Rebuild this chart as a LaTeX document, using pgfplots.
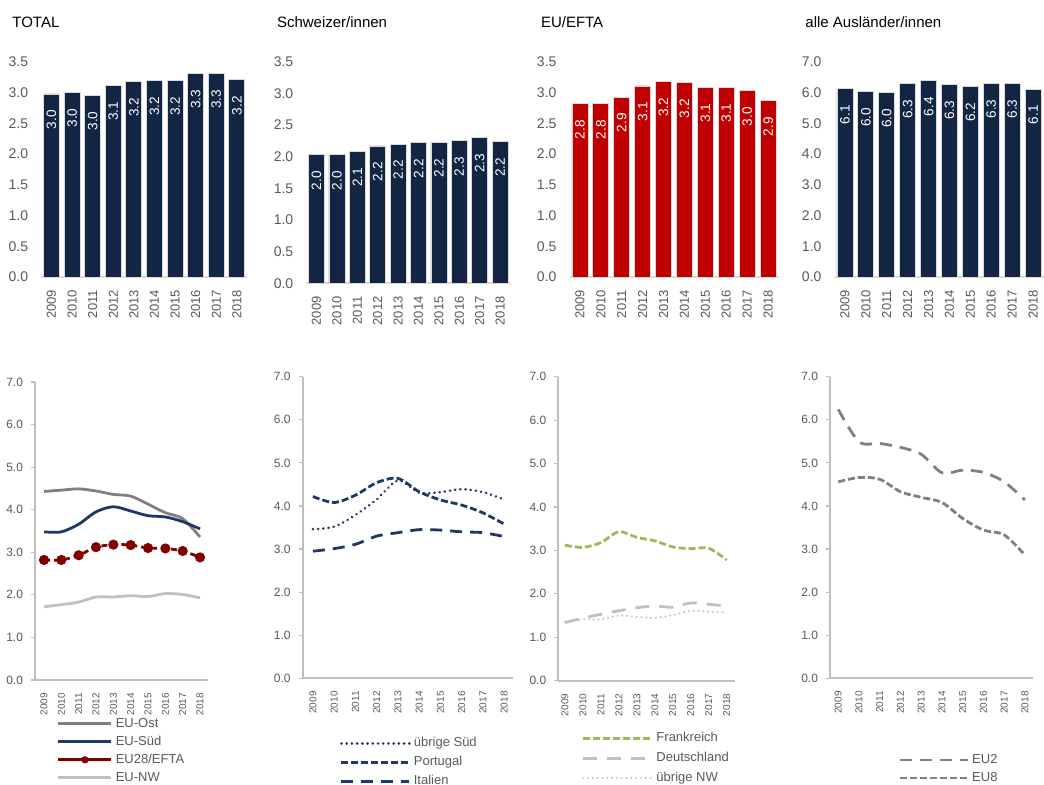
\documentclass[border=0pt]{standalone}
\usepackage{fontspec}
\setmainfont{Liberation Sans}
\usepackage{pgfplots}
\pgfplotsset{compat=1.18}

\definecolor{barnavy}{RGB}{18,37,66}
\definecolor{barred}{RGB}{192,0,0}
\definecolor{linenavy}{RGB}{31,56,100}
\definecolor{darkred}{RGB}{128,0,0}
\definecolor{midgray}{RGB}{128,128,128}
\definecolor{palegray}{RGB}{192,192,192}
\definecolor{frgreen}{RGB}{155,187,89}
\definecolor{ticktext}{RGB}{89,89,89}
\definecolor{axisgray}{RGB}{191,191,191}
\definecolor{basegray}{RGB}{217,217,217}

\pgfplotsset{
  topbar/.style={
    scale only axis, ybar, bar width=8pt,
    xmin=-0.5, xmax=9.5, ymin=0,
    xtick={0,...,9},
    xticklabels={2009,2010,2011,2012,2013,2014,2015,2016,2017,2018},
    axis x line=bottom, axis y line=left,
    x axis line style={draw=basegray, line width=1.2pt, -},
    y axis line style={draw=none},
    major tick length=0pt, tick style={draw=none},
    xticklabel style={rotate=90, anchor=east, font=\fontsize{6.5}{7}\selectfont, text=ticktext},
    yticklabel style={font=\fontsize{7}{8}\selectfont, text=ticktext,
      /pgf/number format/.cd, fixed, fixed zerofill, precision=1},
    /pgf/number format/assume math mode=true,
    xticklabel shift=3pt, yticklabel shift=3pt,
    nodes near coords={\pgfmathprintnumber[fixed,fixed zerofill,precision=1]{\pgfplotspointmeta}},
    every node near coord/.append style={rotate=90, anchor=east, inner xsep=8pt,
      inner ysep=0pt, text=white, font=\fontsize{6.8}{7}\selectfont},
  },
  botline/.style={
    scale only axis, ymin=0, ymax=7, ytick={0,1,...,7},
    xtick={2009,...,2018},
    xticklabels={2009,2010,2011,2012,2013,2014,2015,2016,2017,2018},
    axis x line=bottom, axis y line=left,
    axis line style={draw=axisgray, line width=1pt, -},
    xtick style={draw=none}, ytick style={draw=axisgray, line width=0.6pt},
    tick align=outside, major tick length=2pt,
    xticklabel style={rotate=90, anchor=east, font=\fontsize{5}{6}\selectfont, text=ticktext},
    yticklabel style={font=\fontsize{6}{7}\selectfont, text=ticktext,
      /pgf/number format/.cd, fixed, fixed zerofill, precision=1},
    /pgf/number format/assume math mode=true,
    xticklabel shift=1pt, yticklabel shift=0.5pt,
    legend cell align=left,
    legend style={draw=none, fill=none, inner sep=0pt, row sep=2.5pt, anchor=north west,
      font=\fontsize{6.5}{7}\selectfont, text=ticktext,
      nodes={inner sep=0pt, text height=5pt, text depth=1.5pt},
      /tikz/every odd column/.append style={column sep=1.5pt}},
  },
}

\begin{document}
\begin{tikzpicture}
\useasboundingbox (0pt,0pt) rectangle (522pt,-392.5pt);

% titles
\node[anchor=west, font=\fontsize{7.5}{9}\selectfont, inner sep=0pt] at (6pt,-11.3pt) {TOTAL};
\node[anchor=west, font=\fontsize{7.5}{9}\selectfont, inner sep=0pt] at (138.3pt,-11.3pt) {Schweizer/innen};
\node[anchor=west, font=\fontsize{7.5}{9}\selectfont, inner sep=0pt] at (270.3pt,-11.3pt) {EU/EFTA};
\node[anchor=west, font=\fontsize{7.5}{9}\selectfont, inner sep=0pt] at (402.5pt,-11.3pt) {alle Ausländer/innen};

% ---- top row: bars
\begin{axis}[topbar, at={(20.6pt,-138.5pt)}, anchor=south west,
  width=103pt, height=107.5pt, ymax=3.5, ytick={0,0.5,...,3.5}]
\addplot[fill=barnavy, draw=white!85!black, line width=0.4pt] coordinates {
  (0,2.98) (1,3.01) (2,2.96) (3,3.12) (4,3.18) (5,3.20) (6,3.20) (7,3.31) (8,3.31) (9,3.21)};
\end{axis}

\begin{axis}[topbar, at={(153.15pt,-141.65pt)}, anchor=south west,
  width=102pt, height=110.8pt, ymax=3.5, ytick={0,0.5,...,3.5}]
\addplot[fill=barnavy, draw=white!85!black, line width=0.4pt] coordinates {
  (0,2.03) (1,2.03) (2,2.08) (3,2.17) (4,2.20) (5,2.22) (6,2.23) (7,2.25) (8,2.30) (9,2.24)};
\end{axis}

\begin{axis}[topbar, at={(284.75pt,-138.5pt)}, anchor=south west,
  width=104.5pt, height=107.5pt, ymax=3.5, ytick={0,0.5,...,3.5}]
\addplot[fill=barred, draw=white!85!black, line width=0.4pt] coordinates {
  (0,2.82) (1,2.82) (2,2.93) (3,3.11) (4,3.18) (5,3.16) (6,3.09) (7,3.09) (8,3.03) (9,2.87)};
\end{axis}

\begin{axis}[topbar, at={(417.25pt,-138.5pt)}, anchor=south west,
  width=104.5pt, height=107.5pt, ymax=7, ytick={0,1,...,7}]
\addplot[fill=barnavy, draw=white!85!black, line width=0.4pt] coordinates {
  (0,6.13) (1,6.04) (2,6.01) (3,6.30) (4,6.39) (5,6.27) (6,6.21) (7,6.31) (8,6.31) (9,6.12)};
\end{axis}

% ---- bottom row: lines
\begin{axis}[botline, at={(17.5pt,-340pt)}, anchor=south west,
  width=86.5pt, height=149pt, xmin=2008.48, xmax=2018.46,
  legend style={at={(0.125,-0.124)}},
  legend image code/.code={\draw[#1] (0pt,0pt) -- (26.5pt,0pt);}]
\addplot[midgray, line width=1.4pt, smooth] coordinates {
  (2009,4.43) (2010,4.46) (2011,4.49) (2012,4.44) (2013,4.36) (2014,4.32) (2015,4.13) (2016,3.93) (2017,3.79) (2018,3.36)};
\addlegendentry{EU-Ost}
\addplot[linenavy, line width=1.4pt, smooth] coordinates {
  (2009,3.48) (2010,3.48) (2011,3.66) (2012,3.95) (2013,4.07) (2014,3.97) (2015,3.86) (2016,3.83) (2017,3.72) (2018,3.55)};
\addlegendentry{EU-Süd}
\addlegendimage{legend image code/.code={\draw[darkred, line width=1.4pt] (0pt,0pt) -- (26.5pt,0pt);
    \fill[darkred] (13.25pt,0pt) circle (1.6pt);}}
\addlegendentry{EU28/EFTA}
\addplot[darkred, line width=1.4pt, smooth, dash pattern=on 3pt off 2pt,
  mark=*, mark size=1.8pt, mark options={solid, fill=darkred}, forget plot] coordinates {
  (2009,2.82) (2010,2.82) (2011,2.93) (2012,3.12) (2013,3.18) (2014,3.17) (2015,3.10) (2016,3.09) (2017,3.03) (2018,2.88)};
\addplot[palegray, line width=1.4pt, smooth] coordinates {
  (2009,1.72) (2010,1.77) (2011,1.83) (2012,1.95) (2013,1.95) (2014,1.98) (2015,1.96) (2016,2.03) (2017,2.01) (2018,1.93)};
\addlegendentry{EU-NW}
\end{axis}

\begin{axis}[botline, at={(151.35pt,-339.15pt)}, anchor=south west,
  width=105pt, height=150.8pt, xmin=2008.52, xmax=2018.4,
  legend style={at={(0.176,-0.192)}, row sep=3pt},
  legend image code/.code={\draw[#1] (0pt,0pt) -- (34pt,0pt);}]
\addplot[linenavy, line width=1.4pt, smooth, line cap=round, dash pattern=on 0.01pt off 2.6pt] coordinates {
  (2009,3.46) (2010,3.52) (2011,3.79) (2012,4.15) (2013,4.59) (2014,4.31) (2015,4.32) (2016,4.39) (2017,4.32) (2018,4.15)};
\addlegendentry{übrige Süd}
\addplot[linenavy, line width=1.4pt, smooth, dash pattern=on 3.5pt off 1.5pt] coordinates {
  (2009,4.22) (2010,4.08) (2011,4.25) (2012,4.54) (2013,4.64) (2014,4.33) (2015,4.14) (2016,4.02) (2017,3.84) (2018,3.58)};
\addlegendentry{Portugal}
\addplot[linenavy, line width=1.4pt, smooth, dash pattern=on 6pt off 4pt] coordinates {
  (2009,2.95) (2010,3.01) (2011,3.11) (2012,3.30) (2013,3.38) (2014,3.45) (2015,3.44) (2016,3.40) (2017,3.38) (2018,3.29)};
\addlegendentry{Italien}
\end{axis}

\begin{axis}[botline, at={(279.15pt,-340.35pt)}, anchor=south west,
  width=88.35pt, height=152pt, xmin=2008.63, xmax=2018.46,
  legend style={at={(0.13,-0.167)}, row sep=3.5pt},
  legend image code/.code={\draw[#1] (0pt,0pt) -- (34.5pt,0pt);}]
\addplot[frgreen, line width=1.4pt, smooth, dash pattern=on 3.5pt off 1.5pt] coordinates {
  (2009,3.12) (2010,3.07) (2011,3.18) (2012,3.43) (2013,3.30) (2014,3.22) (2015,3.08) (2016,3.04) (2017,3.05) (2018,2.78)};
\addlegendentry{Frankreich}
\addplot[palegray, line width=1.4pt, smooth, dash pattern=on 7pt off 5pt] coordinates {
  (2009,1.34) (2010,1.44) (2011,1.53) (2012,1.61) (2013,1.68) (2014,1.72) (2015,1.69) (2016,1.79) (2017,1.76) (2018,1.72)};
\addlegendentry{Deutschland}
\addplot[palegray, line width=1.1pt, smooth, line cap=round, dash pattern=on 0.01pt off 2.4pt] coordinates {
  (2009,1.36) (2010,1.41) (2011,1.41) (2012,1.50) (2013,1.47) (2014,1.45) (2015,1.51) (2016,1.61) (2017,1.59) (2018,1.57)};
\addlegendentry{übrige NW}
\end{axis}

\begin{axis}[botline, at={(415pt,-339.15pt)}, anchor=south west,
  width=101.5pt, height=150.8pt, xmin=2008.6, xmax=2018.39,
  legend style={at={(0.335,-0.248)}},
  legend image code/.code={\draw[#1] (0pt,0pt) -- (34pt,0pt);}]
\addplot[midgray, line width=1.4pt, smooth, dash pattern=on 6pt off 4pt] coordinates {
  (2009,6.24) (2010,5.49) (2011,5.45) (2012,5.36) (2013,5.20) (2014,4.77) (2015,4.83) (2016,4.78) (2017,4.56) (2018,4.14)};
\addlegendentry{EU2}
\addplot[midgray, line width=1.4pt, smooth, dash pattern=on 3.5pt off 1.5pt] coordinates {
  (2009,4.56) (2010,4.66) (2011,4.62) (2012,4.33) (2013,4.20) (2014,4.08) (2015,3.71) (2016,3.44) (2017,3.33) (2018,2.86)};
\addlegendentry{EU8}
\end{axis}
\end{tikzpicture}
\end{document}
